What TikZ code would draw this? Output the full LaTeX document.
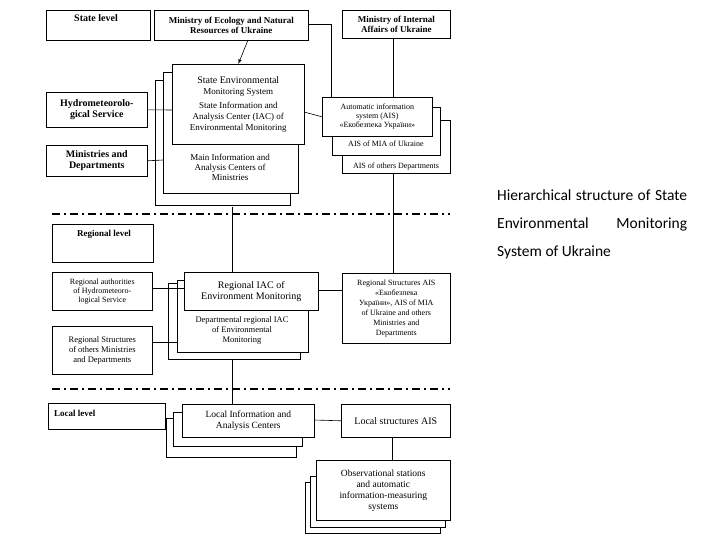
\documentclass[tikz,border=0pt]{standalone}
\usepackage{fontspec}
\setmainfont{Liberation Serif}
\newfontfamily\calfont{Carlito}
\begin{document}
\begin{tikzpicture}[x=1pt,y=-1pt,
 bx/.style={draw,fill=white,line width=0.6pt,inner sep=1pt,align=center,font=\fontsize{9}{10}\selectfont},
 bb/.style={bx,font=\bfseries\fontsize{9}{10}\selectfont},
 tx/.style={inner sep=0pt,align=center,font=\fontsize{9}{10}\selectfont},
 ln/.style={line width=0.6pt},
 dd/.style={line width=1.8pt,dash pattern=on 8pt off 4pt on 2pt off 4pt}]
\useasboundingbox (0,0) rectangle (720,540);
% state
\node[bb,minimum width=104,minimum height=30,anchor=north west] (sl) at (46,10) {};
\node[tx,font=\bfseries\fontsize{10}{11}\selectfont] (slt) at (96,18) {State level};
\node[bb,minimum width=154,minimum height=30,anchor=north west] (me) at (154,10) {Ministry of Ecology and Natural\\Resources of Ukraine};
\node[bb,minimum width=108,minimum height=28,anchor=north west] (mi) at (342,10) {Ministry of Internal\\Affairs of Ukraine};
\node[bx,minimum width=135,minimum height=125,anchor=north west] (s3) at (155,80) {};
\node[bx,minimum width=135,minimum height=121,anchor=north west] (s2) at (163,72) {};
\node[tx] (s2t) at (230,167) {Main Information and\\Analysis Centers of\\Ministries};
\node[bx,minimum width=132,minimum height=80,anchor=north west,font=\fontsize{9}{11}\selectfont] (sems) at (172,64) {\fontsize{10}{12}\selectfont State Environmental\\Monitoring System\\[3pt]\fontsize{9}{11}\selectfont State Information and\\Analysis Center (IAC) of\\Environmental Monitoring};
\draw[ln,-latex] (248,40) -- (sems.north);
\node[bb,minimum width=101,minimum height=35,anchor=north west,font=\bfseries\fontsize{10}{11}\selectfont] (hy) at (46,92) {Hydrometeorolo-\\gical Service};
\node[bb,minimum width=101,minimum height=31,anchor=north west,font=\bfseries\fontsize{10}{11}\selectfont] (md) at (46,145) {Ministries and\\Departments};
\node[bx,minimum width=108,minimum height=53,anchor=north west] (a3) at (342,120) {};
\node[tx,font=\fontsize{8}{9}\selectfont] (a3t) at (396,167) {AIS of others Departments};
\node[bx,minimum width=108,minimum height=48,anchor=north west] (a2) at (332,107) {};
\node[tx,font=\fontsize{8}{9}\selectfont] (a2t) at (386,144) {AIS of MIA of Ukraine};
\node[bx,minimum width=110,minimum height=39,anchor=north west,font=\fontsize{8}{9}\selectfont] (ais) at (322,97) {Automatic information\\system (AIS)\\«Екобезпека України»};
\draw[ln] (hy.east) -- (172,110);
\draw[ln] (md.east) -- (163,160);
\draw[ln] (304,112) -- (ais.west);
\draw[ln] (me.east |- 0,24) -- (331,24) -- (331,97);
\draw[ln] (mi.south -| 393,0) -- (393,97);
\draw[dd] (52,214) -- (450,214);
% regional
\node[bb,minimum width=101,minimum height=38,anchor=north west] (rl) at (52,224) {};
\node[tx,font=\bfseries\fontsize{9}{10}\selectfont] (rlt) at (104,234) {Regional level};
\node[bx,minimum width=100,minimum height=38,anchor=north west,font=\fontsize{8}{9}\selectfont] (ra) at (52,272) {Regional authorities\\of Hydrometeoro-\\logical Service};
\node[bx,minimum width=132,minimum height=76,anchor=north west] (r3) at (168,283) {};
\node[bx,minimum width=131,minimum height=72,anchor=north west] (r2) at (177,280) {};
\node[tx,font=\fontsize{8.5}{10}\selectfont] (r2t) at (242,330) {Departmental regional IAC\\of Environmental\\Monitoring};
\node[bx,minimum width=134,minimum height=38,anchor=north west,font=\fontsize{10}{11}\selectfont] (ri) at (184,272) {Regional IAC of\\Environment Monitoring};
\node[bx,minimum width=100,minimum height=48,anchor=north west,font=\fontsize{8.5}{10}\selectfont] (rs) at (52,326) {Regional Structures\\of others Ministries\\and Departments};
\node[bx,minimum width=108,minimum height=70,anchor=north west,font=\fontsize{8}{10}\selectfont] (ra2) at (342,273) {Regional Structures AIS\\«Екобезпека\\України», AIS of MIA\\of Ukraine and others\\Ministries and\\Departments};
\draw[ln] (232,207) -- (232,272);
\draw[ln] (393,173) -- (393,273);
\draw[ln] (152,288) -- (184,288);
\draw[ln] (152,342) -- (177,342);
\draw[ln] (318,290) -- (342,290);
\draw[ln] (232,359) -- (232,404);
\draw[dd] (52,389) -- (450,389);
% local
\node[bx,minimum width=117,minimum height=26,anchor=north west] (ll) at (48,403) {};
\node[tx,font=\bfseries\fontsize{9}{10}\selectfont,anchor=west] (llt) at (54,413) {Local level};
\node[bx,minimum width=130,minimum height=39,anchor=north west] (l3) at (166,418) {};
\node[bx,minimum width=129,minimum height=34,anchor=north west] (l2) at (173,412) {};
\node[bx,minimum width=132,minimum height=33,anchor=north west,font=\fontsize{9.5}{11}\selectfont] (li) at (182,404) {Local Information and\\Analysis Centers};
\node[bx,minimum width=109,minimum height=33,anchor=north west,font=\fontsize{10}{11}\selectfont] (la) at (341,404) {Local structures AIS};
\draw[ln] (314,420) -- (la.west);
\draw[ln] (392,437) -- (392,460);
\node[bx,minimum width=135,minimum height=51,anchor=north west] (o3) at (305,482) {};
\node[bx,minimum width=135,minimum height=51,anchor=north west] (o2) at (310,476) {};
\node[bx,minimum width=134,minimum height=60,anchor=north west,font=\fontsize{9.5}{11}\selectfont] (ob) at (316,460) {Observational stations\\and automatic\\information-measuring\\systems};
\node[anchor=north west,text width=190,align=justify,inner sep=0,font=\calfont\fontsize{15.5}{28}\selectfont] (tt) at (497,190) {Hierarchical structure of State Environmental Monitoring System of Ukraine};
\end{tikzpicture}
\end{document}
